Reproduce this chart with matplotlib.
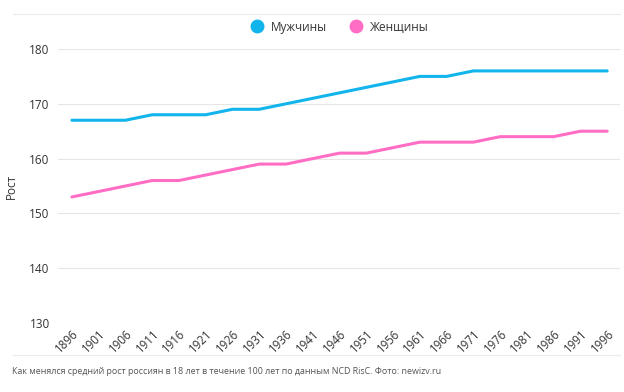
import matplotlib
matplotlib.use("Agg")
import matplotlib.pyplot as plt
from matplotlib.lines import Line2D

plt.rcParams['font.family'] = ['Open Sans', 'DejaVu Sans']

years = [1896, 1901, 1906, 1911, 1916, 1921, 1926, 1931, 1936, 1941, 1946,
         1951, 1956, 1961, 1966, 1971, 1976, 1981, 1986, 1991, 1996]
men = [167, 167, 167, 168, 168, 168, 169, 169, 170, 171, 172,
       173, 174, 175, 175, 176, 176, 176, 176, 176, 176]
women = [153, 154, 155, 156, 156, 157, 158, 159, 159, 160, 161,
         161, 162, 163, 163, 163, 164, 164, 164, 165, 165]
series_names = ['Мужчины', 'Женщины']
colors = ['#12b4ec', '#ff6ec4']
caption = 'Как менялся средний рост россиян в 18 лет в течение 100 лет по данным NCD RisC. Фото: newizv.ru'

fig = plt.figure(figsize=(6.24, 3.92), dpi=100)
ax = fig.add_axes([58/624, 1 - 323/392, 562/624, 274/392])

idx = list(range(len(years)))
ax.plot(idx, men, color=colors[0], lw=2.2, solid_capstyle='round')
ax.plot(idx, women, color=colors[1], lw=2.2, solid_capstyle='round')

ax.set_xlim(-0.52, 20.48)
ax.set_ylim(130, 180)
ax.set_yticks([130, 140, 150, 160, 170, 180])
ax.set_xticks(idx)
ax.set_xticklabels([str(y) for y in years], rotation=45, ha='right',
                   rotation_mode='anchor', fontsize=8.3, color='#333333')
ax.tick_params(axis='y', labelsize=8.5, labelcolor='#333333', length=0, pad=6)
ax.tick_params(axis='x', length=0, pad=3)
ax.grid(axis='y', color='#e6e6e6', lw=0.8)
ax.set_axisbelow(True)
for s in ax.spines.values():
    s.set_visible(False)
ax.set_ylabel('Рост', fontsize=8.5, color='#333333')
ax.yaxis.set_label_coords(-40/562, 0.5)

handles = [Line2D([], [], marker='o', ls='', color=c, markersize=9) for c in colors]
fig.legend(handles, series_names, loc='center', bbox_to_anchor=(337/624, 1 - 27/392),
           ncol=2, frameon=False, fontsize=8.5, handletextpad=0.2,
           columnspacing=1.4, labelcolor='#333333')

fig.add_artist(Line2D([13/624, 620/624], [1 - 14/392] * 2, color='#ececec', lw=0.8))
fig.add_artist(Line2D([13/624, 620/624], [1 - 355/392] * 2, color='#ececec', lw=0.8))
fig.text(12/624, 1 - 371/392, caption, fontsize=6.4, color='#555555', va='center')

fig.savefig('out.png', dpi=100, facecolor='white')
